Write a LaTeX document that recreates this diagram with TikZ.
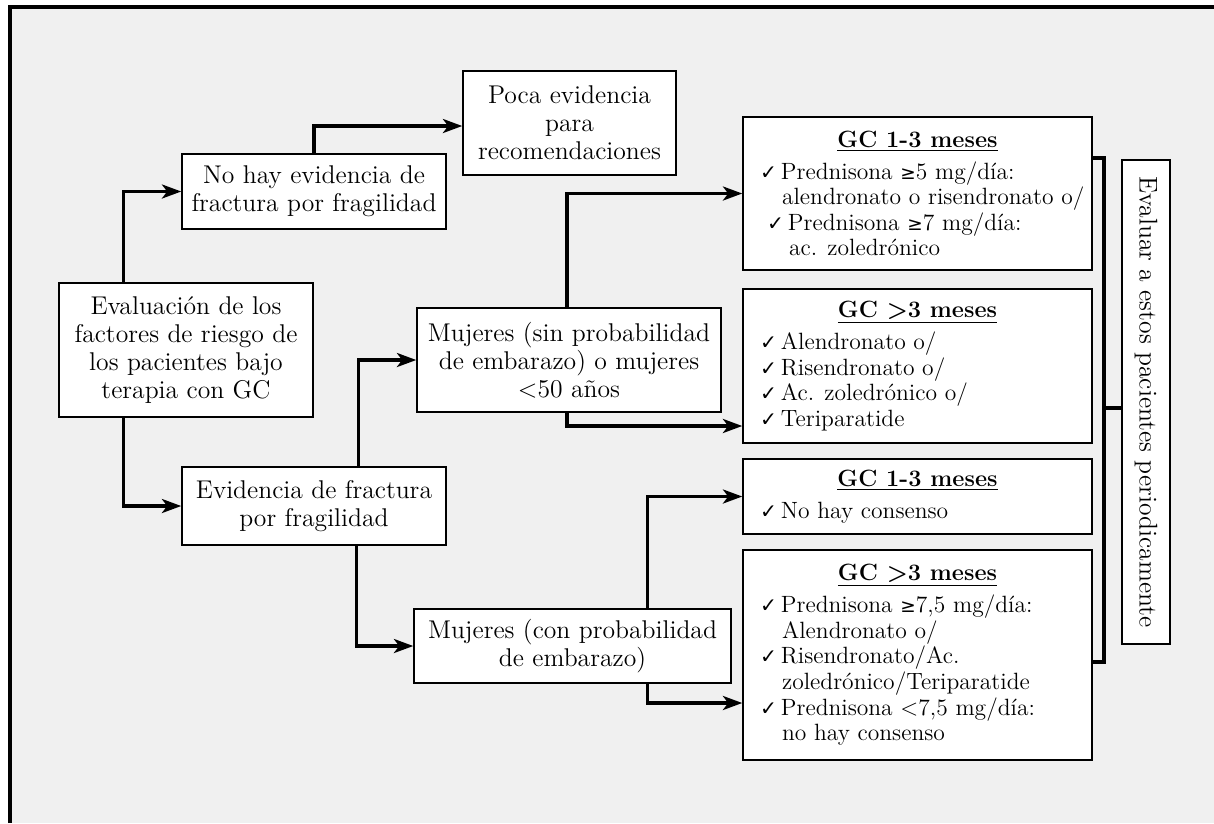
\documentclass[tikz,border=0pt]{standalone}
\usepackage{fontspec}
\usetikzlibrary{arrows.meta}
\newfontfamily\symfont{DejaVu Sans}
\newcommand{\ck}{{\symfont\fontsize{11.5}{11.5}\selectfont ✓}\,}
\newcommand{\gsym}{{\symfont\fontsize{10.5}{10.5}\selectfont ≥}}
\newcommand{\hdr}[1]{\centering\underline{\textbf{#1}}\par\vspace{3.5pt}\raggedright}
\definecolor{bgray}{HTML}{F0F0F0}
\tikzset{
  box/.style={draw=black, line width=0.9pt, fill=white, inner sep=2pt, align=center, font=\fontsize{14.6}{15.9}\selectfont},
  rbox/.style={draw=black, line width=0.9pt, fill=white, inner sep=0pt, minimum width=6.98cm, font=\fontsize{13.4}{14.6}\selectfont},
  arr/.style={line width=1.8pt, -{Stealth[length=11pt, width=8pt, inset=3pt]}},
  lnk/.style={line width=1.8pt}
}
\begin{document}
\begin{tikzpicture}[x=0.02cm, y=-0.02cm]
\useasboundingbox (0,0) rectangle (1214,823);
\fill[white] (0,0) rectangle (1214,823);
\fill[bgray] (10,7) rectangle (1214,823);
\draw[line width=1.8pt] (10,823) -- (10,7) -- (1214,7);

\node[box, minimum width=5.08cm, minimum height=2.68cm] (eval) at (186,350) {Evaluación de los\\factores de riesgo de\\los pacientes bajo\\terapia con GC};
\node[box, minimum width=5.28cm, minimum height=1.5cm] (nohay) at (314,191.5) {No hay evidencia de\\fractura por fragilidad};
\node[box, minimum width=5.28cm, minimum height=1.56cm] (evid) at (314,506) {Evidencia de fractura\\por fragilidad};
\node[box, minimum width=4.26cm, minimum height=2.08cm] (poca) at (569.5,123) {Poca evidencia\\para\\recomendaciones};
\node[box, minimum width=6.08cm, minimum height=2.08cm] (msin) at (569,360) {Mujeres (sin probabilidad\\de embarazo) o mujeres\\<50 años};
\node[box, minimum width=6.34cm, minimum height=1.48cm] (mcon) at (572.5,646) {Mujeres (con probabilidad\\de embarazo)};

\node[rbox, minimum height=3.06cm] (gc1) at (917.5,193.5) {\begin{minipage}{6.98cm}\hdr{GC 1-3 meses}
\hspace*{0.34cm}\ck Prednisona \gsym5 mg/día:\par
\hspace*{0.78cm}alendronato o risendronato o/\par
\hspace*{0.48cm}\ck Prednisona \gsym7 mg/día:\par
\hspace*{0.92cm}ac. zoledrónico\end{minipage}};
\node[rbox, minimum height=3.08cm] (gc3) at (917.5,366) {\begin{minipage}{6.98cm}\hdr{GC >3 meses}
\hspace*{0.34cm}\ck Alendronato o/\par
\hspace*{0.34cm}\ck Risendronato o/\par
\hspace*{0.34cm}\ck Ac. zoledrónico o/\par
\hspace*{0.34cm}\ck Teriparatide\end{minipage}};
\node[rbox, minimum height=1.5cm] (gc1b) at (917.5,496.5) {\begin{minipage}{6.98cm}\hdr{GC 1-3 meses}
\hspace*{0.34cm}\ck No hay consenso\end{minipage}};
\node[rbox, minimum height=4.2cm] (gc3b) at (917.5,655) {\begin{minipage}{6.98cm}\hdr{GC >3 meses}
\hspace*{0.34cm}\ck Prednisona \gsym7,5 mg/día:\par
\hspace*{0.78cm}Alendronato o/\par
\hspace*{0.34cm}\ck Risendronato/Ac.\par
\hspace*{0.78cm}zoledrónico/Teriparatide\par
\hspace*{0.34cm}\ck Prednisona <7,5 mg/día:\par
\hspace*{0.78cm}no hay consenso\end{minipage}};

\node[box, inner sep=0pt, minimum width=0.96cm, minimum height=9.68cm] (evalr) at (1146,402) {\rotatebox{-90}{Evaluar a estos pacientes periodicamente}};

\draw[arr] ([xshift=1.3cm]eval.north west) |- (nohay.west);
\draw[arr] ([xshift=1.3cm]eval.south west) |- (evid.west);
\draw[arr] (nohay.north) |- ([yshift=-0.06cm]poca.west);
\draw[arr] ([xshift=3.54cm]evid.north west) |- (msin.west);
\draw[arr] ([xshift=3.5cm]evid.south west) |- (mcon.west);
\draw[arr] ([xshift=-0.04cm]msin.north) |- (gc1.west);
\draw[arr] ([xshift=-0.04cm]msin.south) |- ([yshift=-1.2cm]gc3.west);
\draw[arr] ([xshift=1.5cm]mcon.north) |- (gc1b.west);
\draw[arr] ([xshift=1.5cm]mcon.south) |- ([yshift=-0.96cm]gc3b.west);

\coordinate (bt) at (1104,158);
\coordinate (bb) at (1104,662);
\coordinate (bm) at (1104,408);
\draw[lnk] (bt -| gc1.east) -- (bt) -- (bb) -- (bb -| gc3b.east);
\draw[lnk] (bm) -- (bm -| evalr.west);
\end{tikzpicture}
\end{document}
